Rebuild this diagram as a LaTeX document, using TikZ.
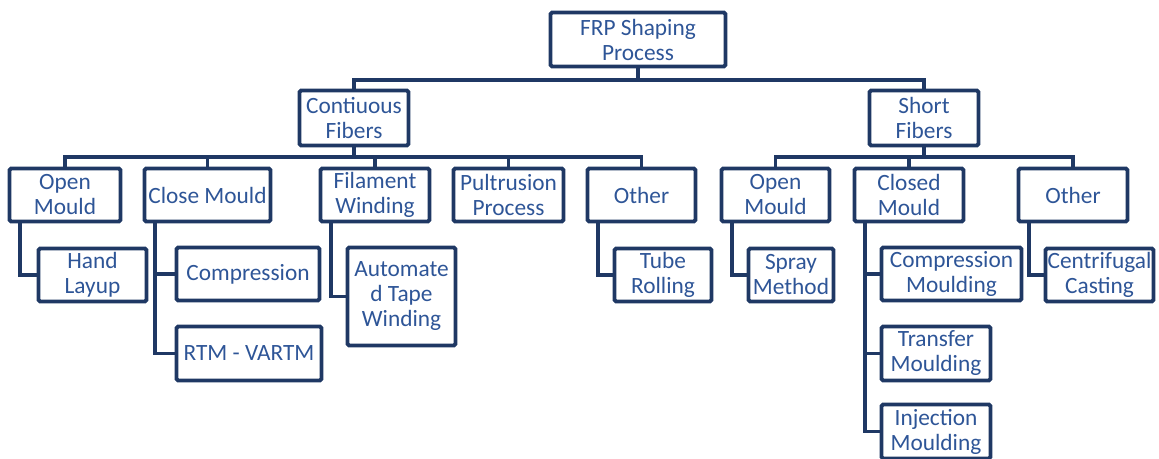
\documentclass[tikz,border=0pt]{standalone}
\usepackage{fontspec}
\setmainfont{Carlito}
\definecolor{BD}{HTML}{1F3864}
\definecolor{TX}{HTML}{2E5597}

\begin{document}
\begin{tikzpicture}[x=0.6pt, y=-0.6pt, line width=2.3pt,
    every node/.style={draw=BD, rectangle, rounded corners=1pt, align=center, text=TX, inner sep=0pt, font=\fontsize{14}{15}\selectfont},
    box/.style 2 args={minimum width=#1*0.6pt, minimum height=#2*0.6pt}]
    \useasboundingbox (0,0) rectangle (1159,459);
    \node[box={175}{54}] (root) at (638, 39.5) {FRP Shaping\\Process};
    \node[box={109}{55}] (cont) at (354, 118) {Contiuous\\Fibers};
    \node[box={109}{55}] (short) at (924, 118) {Short\\Fibers};
    \node[box={111}{53}] (om1) at (65, 195) {Open\\Mould};
    \node[box={126}{53}] (cm1) at (207.5, 195) {Close Mould};
    \node[box={109}{53}] (fw) at (375, 195) {Filament\\Winding};
    \node[box={110}{53}] (pp) at (508.5, 195) {Pultrusion\\Process};
    \node[box={108}{53}] (ot1) at (641.5, 195) {Other};
    \node[box={108}{53}] (om2) at (775.5, 195) {Open\\Mould};
    \node[box={109}{53}] (cm2) at (909, 195) {Closed\\Mould};
    \node[box={109}{53}] (ot2) at (1073, 195) {Other};
    \node[box={108}{53}] (hl) at (92.5, 275) {Hand\\Layup};
    \node[box={143}{53}] (comp) at (248, 274) {Compression};
    \node[box={145}{54}] (rtm) at (249, 353.5) {RTM - VARTM};
    \node[box={108}{98}] (atw) at (401.5, 296.5) {Automate\\d Tape\\Winding};
    \node[box={97}{53}] (tr) at (663, 275) {Tube\\Rolling};
    \node[box={85}{53}] (sm) at (791, 275) {Spray\\Method};
    \node[box={140}{53}] (cmo) at (951.5, 274) {Compression\\Moulding};
    \node[box={109}{54}] (tm) at (936, 353.5) {Transfer\\Moulding};
    \node[box={109}{54}] (im) at (936, 431.5) {Injection\\Moulding};
    \node[box={108}{53}] (cc) at (1099.5, 275) {Centrifugal\\Casting};
    \foreach \c in {cont, short}
        \draw[BD] (root.south) -- ++(0, 11.5) -| (\c.north);
    \foreach \c in {om1, cm1, fw, pp, ot1}
        \draw[BD] (cont.south) -- ++(0, 9.5) -| (\c.north);
    \foreach \c in {om2, cm2, ot2}
        \draw[BD] (short.south) -- ++(0, 9.5) -| (\c.north);
    \foreach \p/\c in {om1/hl, cm1/comp, cm1/rtm, fw/atw, ot1/tr, om2/sm, cm2/cmo, cm2/tm, cm2/im, ot2/cc}
        \draw[BD] ([xshift=7.2pt]\p.south west) |- (\c.west);
\end{tikzpicture}
\end{document}
